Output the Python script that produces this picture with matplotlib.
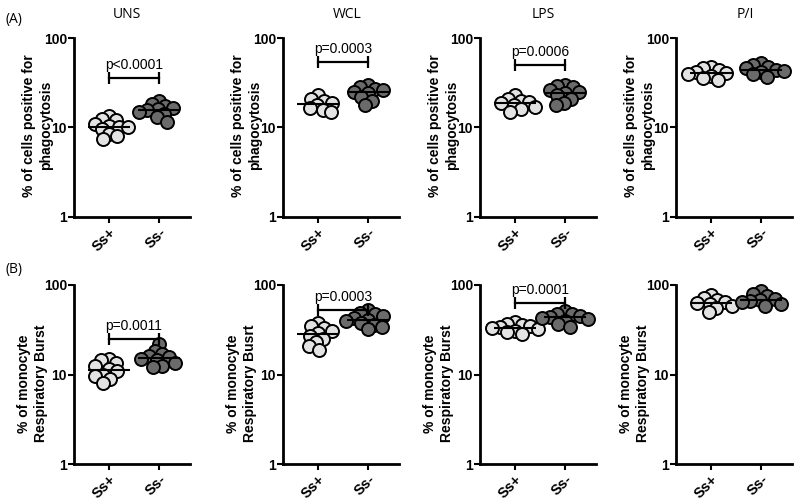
import numpy as np
import matplotlib
matplotlib.use("Agg")
import matplotlib.pyplot as plt
from matplotlib.ticker import FixedLocator, NullLocator, FixedFormatter

plt.rcParams['font.family'] = ['Liberation Sans', 'DejaVu Sans']

# ---------------- data ----------------
groups = ["Ss+", "Ss-"]
conditions = ["UNS", "WCL", "LPS", "P/I"]
ylabel_phago = "% of cells positive for\nphagocytosis"
ylabel_burst = ["% of monocyte\nRespiratory Burst", "% of monocyte\nRespiratory Busrt",
                "% of monocyte\nRespiratory Burst", "% of monocyte\nRespiratory Burst"]

# Row A: phagocytosis
phago_uns_pos = [13.5, 12.5, 12, 11, 10.5, 10, 10, 9.5, 8.5, 8, 7.5]
phago_uns_neg = [20, 18.5, 17.5, 16.5, 16, 15.5, 15, 14, 13, 11.5]
phago_wcl_pos = [23, 21, 20, 19, 18, 16.5, 15.5, 15]
phago_wcl_neg = [30, 28, 27, 26, 25, 24, 22, 20, 18]
phago_lps_pos = [23, 21, 20, 19.5, 19, 18, 17, 16, 15]
phago_lps_neg = [30, 29, 28, 26, 25, 24, 23, 21, 19, 18]
phago_pi_pos = [47, 46, 44, 42, 41, 40, 38, 36, 34]
phago_pi_neg = [52, 50, 48, 46, 44, 43, 42, 40, 37]

# Row B: respiratory burst
burst_uns_pos = [15, 14.5, 13.5, 12.5, 11.5, 11, 10, 9.5, 9, 8]
burst_uns_neg = [22, 18.5, 17, 16, 15.5, 15, 14.5, 13.5, 12.5, 12]
burst_wcl_pos = [38, 35, 33, 31, 29, 27, 25, 23, 21, 19]
burst_wcl_neg = [52, 49, 47, 45, 43, 41, 40, 38, 36, 34, 32]
burst_lps_pos = [39, 37, 36, 35, 34, 33, 32, 31, 30, 28]
burst_lps_neg = [51, 48, 47, 45, 44, 43, 42, 40, 37, 34]
burst_pi_pos = [78, 72, 68, 65, 63, 62, 58, 55, 50]
burst_pi_neg = [86, 80, 75, 70, 68, 66, 64, 62, 58]

# significance annotations (text, bar height) ; None = no bar
sig_phago = [("p<0.0001", 35.7), ("p=0.0003", 54), ("p=0.0006", 50), None]
sig_burst = [("p=0.0011", 25), ("p=0.0003", 52.5), ("p=0.0001", 63), None]

row_a = [(phago_uns_pos, phago_uns_neg), (phago_wcl_pos, phago_wcl_neg),
         (phago_lps_pos, phago_lps_neg), (phago_pi_pos, phago_pi_neg)]
row_b = [(burst_uns_pos, burst_uns_neg), (burst_wcl_pos, burst_wcl_neg),
         (burst_lps_pos, burst_lps_neg), (burst_pi_pos, burst_pi_neg)]

# ---------------- layout ----------------
W, H = 800, 500
fig = plt.figure(figsize=(8, 5), dpi=100)
lefts_px = [74, 283, 480, 676]
ax_w_px = 116
rows_px = [(38, 217), (285, 464)]
XLIM = (-0.7, 1.62)
PX_PER_UNIT = ax_w_px / (XLIM[1] - XLIM[0])
PX_PER_DECADE = (rows_px[0][1] - rows_px[0][0]) / 2.0
MARKER_D = 13.0  # px

fills = ["#e3e3e3", "#6b6b6b"]


def swarm_offsets(vals):
    """simple beeswarm in pixel space; returns x offsets in data units"""
    vals = np.asarray(vals, dtype=float)
    ys = np.log10(vals) * PX_PER_DECADE
    order = np.argsort(-vals)
    D = MARKER_D * 0.62
    placed = []
    xs = np.zeros(len(vals))
    for i in order:
        y = ys[i]
        cands = [0.0]
        for (xj, yj) in placed:
            dy = y - yj
            if abs(dy) < D:
                dx = np.sqrt(D * D - dy * dy)
                cands += [xj + dx, xj - dx]
        cands = sorted(cands, key=lambda c: (abs(c), c))
        for c in cands:
            ok = True
            for (xj, yj) in placed:
                if (c - xj) ** 2 + (y - yj) ** 2 < D * D - 1e-6:
                    ok = False
                    break
            if ok:
                xs[i] = c
                placed.append((c, y))
                break
    return xs / PX_PER_UNIT


def draw_panel(ax, pair, sig, ylabel, label_xy):
    for gi, vals in enumerate(pair):
        offs = swarm_offsets(vals)
        ax.scatter(gi + offs, vals, s=(MARKER_D * 0.72) ** 2, facecolor=fills[gi],
                   edgecolor="black", linewidth=1.4, zorder=3, clip_on=False)
        med = np.median(vals)
        ax.plot([gi - 0.42, gi + 0.42], [med, med], color="black", lw=1.5,
                zorder=4, solid_capstyle="butt")
    if sig is not None:
        txt, yb = sig
        ax.plot([0, 1], [yb, yb], color="black", lw=1.6, zorder=5)
        ax.plot([0, 1], [yb, yb], linestyle="none", marker="|", markersize=8,
                markeredgewidth=1.6, color="black", zorder=5)
        ax.annotate(txt, xy=(0.5, yb), xytext=(0, 4), textcoords="offset points",
                    ha="center", va="bottom", fontsize=10, zorder=6)
    ax.set_yscale("log")
    ax.set_ylim(1, 100)
    ax.set_xlim(*XLIM)
    ax.yaxis.set_major_locator(FixedLocator([1, 10, 100]))
    ax.yaxis.set_major_formatter(FixedFormatter(["1", "10", "100"]))
    ax.yaxis.set_minor_locator(NullLocator())
    ax.set_xticks([0, 1])
    ax.set_xticklabels(groups, rotation=45, ha="right", rotation_mode="anchor",
                       fontsize=10.5, fontweight="bold")
    for lab in ax.get_yticklabels():
        lab.set_fontweight("bold")
        lab.set_fontsize(10)
    ax.tick_params(axis="both", direction="out", length=4, width=1.5, pad=2)
    ax.tick_params(axis="y", pad=1)
    for s in ["top", "right"]:
        ax.spines[s].set_visible(False)
    for s in ["left", "bottom"]:
        ax.spines[s].set_linewidth(2)
    ax.set_ylabel(ylabel, fontsize=10, fontweight="bold", linespacing=1.3)
    ax.yaxis.set_label_coords(*label_xy)
    ax.patch.set_alpha(0)


for r, (rows, sigs) in enumerate([(row_a, sig_phago), (row_b, sig_burst)]):
    top, bot = rows_px[r]
    for c in range(4):
        ax = fig.add_axes([lefts_px[c] / W, 1 - bot / H, ax_w_px / W, (bot - top) / H])
        ylab = ylabel_phago if r == 0 else ylabel_burst[c]
        draw_panel(ax, rows[c], sigs[c], ylab, (-0.18, 0.51) if r == 0 else (-0.22, 0.45))

title_x_px = [127, 347, 543, 745]
for c, name in enumerate(conditions):
    fig.text(title_x_px[c] / W, 1 - 14 / H, name, ha="center", va="center",
             fontsize=10, family=["Open Sans", "DejaVu Sans"])
fig.text(5 / W, 1 - 20 / H, "(A)", ha="left", va="center", fontsize=10,
         family=["Open Sans", "DejaVu Sans"])
fig.text(5 / W, 1 - 270 / H, "(B)", ha="left", va="center", fontsize=10,
         family=["Open Sans", "DejaVu Sans"])

fig.savefig("out.png", dpi=100, facecolor="white")
